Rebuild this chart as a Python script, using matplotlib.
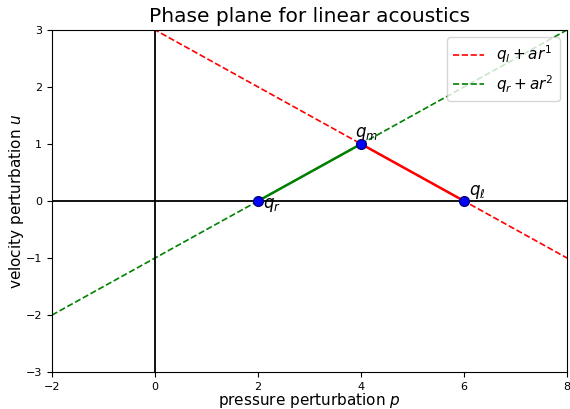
import numpy as np
import matplotlib
matplotlib.use('Agg')
import matplotlib.pyplot as plt

# states in the (p, u) phase plane
q_l = (6.0, 0.0)
q_r = (2.0, 0.0)
q_m = (4.0, 1.0)
# eigenvector directions
r1 = (-2.0, 1.0)
r2 = (2.0, 1.0)

x_range = [-2, 8]
y_range = [-3, 3]
x_ticks = [-2, 0, 2, 4, 6, 8]
y_ticks = [-3, -2, -1, 0, 1, 2, 3]

fig = plt.figure(figsize=(5.7, 4.09), dpi=100)
ax = fig.add_axes([0.091, 0.09, 0.904, 0.837])

p = np.linspace(x_range[0], x_range[1], 200)
ax.plot(p, q_l[1] + (p - q_l[0]) * r1[1] / r1[0], 'r--', lw=1.2, label=r'$q_l + a r^1$')
ax.plot(p, q_r[1] + (p - q_r[0]) * r2[1] / r2[0], 'g--', lw=1.2, label=r'$q_r + a r^2$')

ax.axhline(0, color='k', lw=1.3)
ax.axvline(0, color='k', lw=1.3)

ax.plot([q_r[0], q_m[0]], [q_r[1], q_m[1]], 'g-', lw=1.8)
ax.plot([q_m[0], q_l[0]], [q_m[1], q_l[1]], 'r-', lw=1.8)

for q in (q_l, q_r, q_m):
    ax.plot(q[0], q[1], 'o', color='b', mec='navy', ms=7, zorder=5)

ax.text(q_m[0] - 0.12, q_m[1] + 0.12, r'$q_m$', fontsize=12)
ax.text(q_r[0] + 0.1, q_r[1] - 0.13, r'$q_r$', fontsize=12)
ax.text(q_l[0] + 0.1, q_l[1] + 0.1, r'$q_\ell$', fontsize=12)

ax.set_xlim(x_range)
ax.set_ylim(y_range)
ax.set_xticks(x_ticks)
ax.set_yticks(y_ticks)
ax.tick_params(labelsize=8)
ax.set_xlabel(r'pressure perturbation $p$', fontsize=11, labelpad=-1)
ax.set_ylabel(r'velocity perturbation $u$', fontsize=11, labelpad=0)
ax.set_title('Phase plane for linear acoustics', fontsize=14.5)
ax.legend(loc='upper right', fontsize=11)

fig.savefig('out.png', dpi=100)
